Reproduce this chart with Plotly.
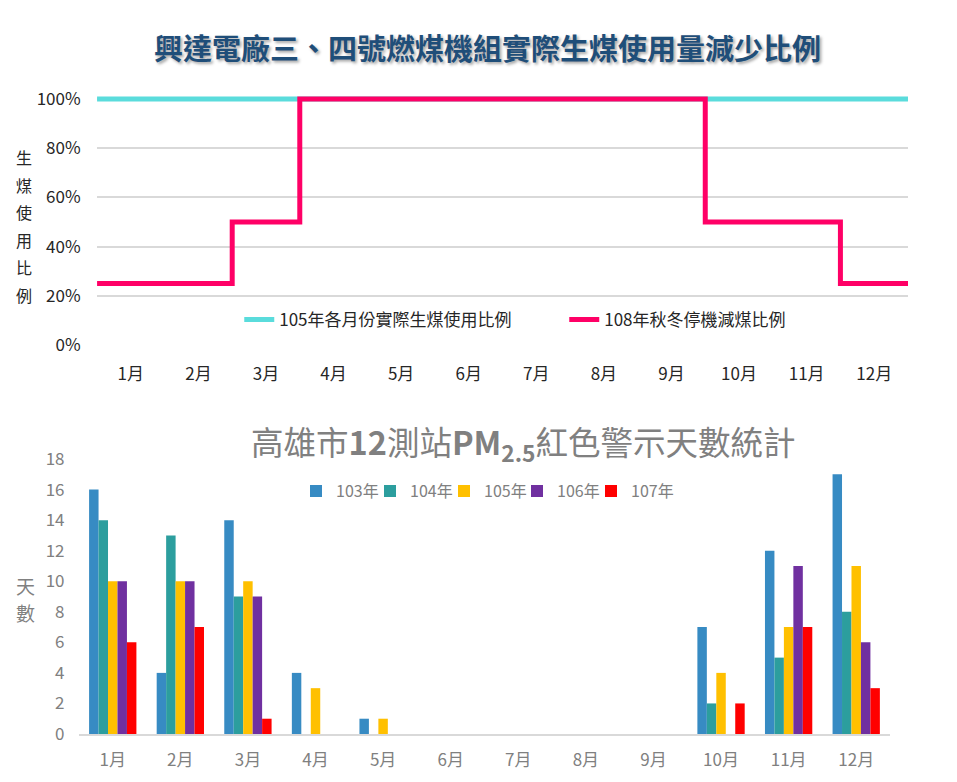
import plotly.graph_objects as go

# ---- data ----
months = ['1月', '2月', '3月', '4月', '5月', '6月', '7月', '8月', '9月', '10月', '11月', '12月']
month_idx = [1, 2, 3, 4, 5, 6, 7, 8, 9, 10, 11, 12]

use_105 = [1.0, 1.0, 1.0, 1.0, 1.0, 1.0, 1.0, 1.0, 1.0, 1.0, 1.0, 1.0]
plan_108 = [0.25, 0.25, 0.50, 1.0, 1.0, 1.0, 1.0, 1.0, 1.0, 0.50, 0.50, 0.25]

years = ['103年', '104年', '105年', '106年', '107年']
days_103 = [16, 4, 14, 4, 1, 0, 0, 0, 0, 7, 12, 17]
days_104 = [14, 13, 9, 0, 0, 0, 0, 0, 0, 2, 5, 8]
days_105 = [10, 10, 10, 3, 1, 0, 0, 0, 0, 4, 7, 11]
days_106 = [10, 10, 9, 0, 0, 0, 0, 0, 0, 0, 11, 6]
days_107 = [6, 7, 1, 0, 0, 0, 0, 0, 0, 2, 7, 3]

cyan = '#5ADCDC'
pink = '#FF0066'
bar_colors = ['#378BC3', '#2C9E9E', '#FFC000', '#7030A0', '#FF0000']
gray = '#808080'
dark = '#262626'
font_cjk = 'Noto Sans CJK TC'


def step_xy(vals):
    # each month occupies its whole slot: edges at month-0.5 .. month+0.5
    xs = [m - 0.5 for m in month_idx] + [month_idx[-1] + 0.5]
    ys = list(vals) + [vals[-1]]
    return xs, ys


fig = go.Figure()

x1, y1 = step_xy(use_105)
fig.add_trace(go.Scatter(x=x1, y=y1, mode='lines', line=dict(color=cyan, width=5, shape='hv'),
                         name='105年各月份實際生煤使用比例', xaxis='x', yaxis='y', legend='legend'))
x2, y2 = step_xy(plan_108)
fig.add_trace(go.Scatter(x=x2, y=y2, mode='lines', line=dict(color=pink, width=5, shape='hv'),
                         name='108年秋冬停機減煤比例', xaxis='x', yaxis='y', legend='legend'))

# one small legend per bar series so the entries sit as tightly as in the original
bar_series = [days_103, days_104, days_105, days_106, days_107]
legend_px = [296, 370, 444, 517, 591]
for k, (nm, vals, col) in enumerate(zip(years, bar_series, bar_colors)):
    lg = 'legend%d' % (k + 2)
    fig.add_trace(go.Bar(x=months, y=vals, name=nm, marker_color=col, marker_line_width=0,
                         xaxis='x2', yaxis='y2', legend=lg))
    fig.update_layout({lg: dict(orientation='h', x=legend_px[k] / 957, y=0.372,
                                xanchor='left', yanchor='middle',
                                font=dict(size=16, color=gray), bgcolor='rgba(0,0,0,0)')})

fig.update_layout(
    width=957, height=782,
    margin=dict(l=0, r=0, t=0, b=0),
    paper_bgcolor='white', plot_bgcolor='white',
    font=dict(family=font_cjk, size=16, color=dark),
    barmode='group', bargap=0.30, bargroupgap=0,
    xaxis=dict(domain=[0.1014, 0.9488], range=[0.5, 12.5], tickvals=month_idx, ticktext=months,
               showgrid=False, zeroline=False, showline=False, automargin=False,
               ticks='outside', ticklen=14, tickcolor='rgba(0,0,0,0)',
               tickfont=dict(size=17, color=dark)),
    yaxis=dict(domain=[0.5588, 0.8829], range=[0, 1.03], tickvals=[0, 0.2, 0.4, 0.6, 0.8, 1.0],
               tickformat='.0%', showgrid=True, gridcolor='#D9D9D9', gridwidth=1.5,
               zeroline=False, showline=False, automargin=False,
               ticks='outside', ticklen=12, tickcolor='rgba(0,0,0,0)',
               tickfont=dict(size=17, color=dark)),
    xaxis2=dict(domain=[0.0825, 0.930], anchor='y2', type='category', automargin=False,
                showgrid=False, zeroline=False, showline=True, linecolor='#D9D9D9', linewidth=2,
                ticks='outside', ticklen=10, tickcolor='rgba(0,0,0,0)',
                tickfont=dict(size=17, color=gray)),
    yaxis2=dict(domain=[0.0614, 0.4130], anchor='x2', range=[0, 18], dtick=2, automargin=False,
                showgrid=False, zeroline=False, showline=False,
                ticks='outside', ticklen=10, tickcolor='rgba(0,0,0,0)',
                tickfont=dict(size=17, color=gray)),
    legend=dict(orientation='h', x=0.250, y=0.591, xanchor='left', yanchor='middle',
                font=dict(size=17, color=dark), bgcolor='rgba(0,0,0,0)',
                entrywidth=280, entrywidthmode='pixels'),
)

annotations = [
    dict(text='<b>興達電廠三、四號燃煤機組實際生煤使用量減少比例</b>', x=0.509, y=0.940,
         xref='paper', yref='paper', showarrow=False, xanchor='center', yanchor='middle',
         font=dict(family=font_cjk, size=29, color='#1F4E79',
                   shadow='2px 2px 3px rgba(0,0,0,0.35)')),
    dict(text='高雄市<b>12</b>測站<b>PM<sub>2.5</sub></b>紅色警示天數統計', x=0.547, y=0.4335,
         xref='paper', yref='paper', showarrow=False, xanchor='center', yanchor='middle',
         font=dict(family=font_cjk, size=32.5, color=gray)),
]

# vertical axis titles, one character per line (positions in pixels, turned into paper fractions)
for i, ch in enumerate('生煤使用比例'):
    annotations.append(dict(text=ch, x=24 / 957, y=(782 - (157 + i * 27.6)) / 782,
                            xref='paper', yref='paper', xanchor='center', yanchor='middle',
                            showarrow=False, font=dict(size=16, color=dark)))
for i, ch in enumerate('天數'):
    annotations.append(dict(text=ch, x=25 / 957, y=(782 - (585 + i * 27)) / 782,
                            xref='paper', yref='paper', xanchor='center', yanchor='middle',
                            showarrow=False, font=dict(size=19, color=gray)))

fig.update_layout(annotations=annotations)

# drop the page's default body margin so the figure sits at the window's top-left corner
fig.write_html('out.html', config={'displayModeBar': False},
               post_script="document.body.style.margin='0';")
